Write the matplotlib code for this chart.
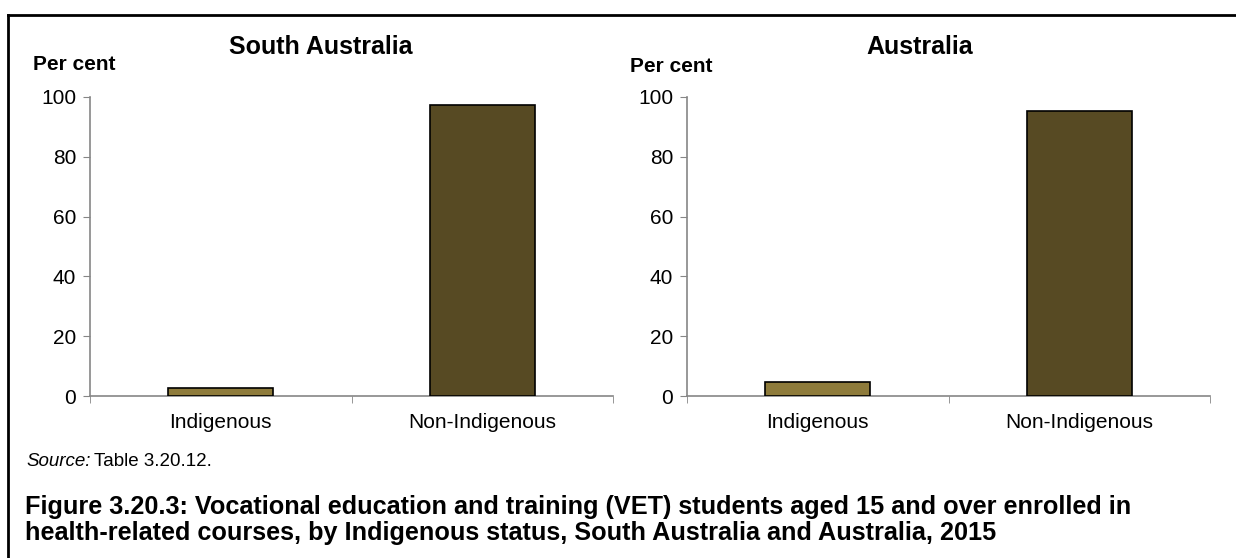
import matplotlib.pyplot as plt
from matplotlib.lines import Line2D

plt.rcParams['font.family'] = ['Liberation Sans', 'DejaVu Sans']

categories = ['Indigenous', 'Non-Indigenous']
sa_values = [2.7, 97.3]
aus_values = [4.7, 95.3]
panel_titles = ['South Australia', 'Australia']
bar_colors = ['#8e7b3b', '#574a23']
yticks = [0, 20, 40, 60, 80, 100]

fig = plt.figure(figsize=(12.36, 5.58), dpi=100)

# frame lines (top and left)
fig.add_artist(Line2D([8/1236, 1.0], [1-15/558, 1-15/558], color='black', lw=2, transform=fig.transFigure))
fig.add_artist(Line2D([8/1236, 8/1236], [1-15/558, 0], color='black', lw=2, transform=fig.transFigure))

boxes = [[90/1236, 1-396/558, 523/1236, 299/558],
         [687/1236, 1-396/558, 523/1236, 299/558]]
ylab_x = [33/1236, 630/1236]
ylab_y = [64, 67]
title_x = [321/1236, 920/1236]

for i, vals in enumerate([sa_values, aus_values]):
    ax = fig.add_axes(boxes[i])
    ax.bar(range(len(categories)), vals, width=0.4, color=bar_colors,
           edgecolor='black', linewidth=1.2, zorder=3)
    ax.set_xlim(-0.5, 1.5)
    ax.set_ylim(0, 100)
    ax.set_yticks(yticks)
    ax.set_xticks([0, 1])
    ax.set_xticklabels(categories, fontsize=15)
    ax.set_xticks([-0.5, 0.5, 1.5], minor=True)
    ax.tick_params(axis='x', which='major', length=0, pad=12)
    ax.tick_params(axis='x', which='minor', length=5, color='#868686', direction='out')
    ax.tick_params(axis='y', length=5, color='#868686', direction='out', labelsize=15, pad=5)
    for s in ['top', 'right']:
        ax.spines[s].set_visible(False)
    for s in ['left', 'bottom']:
        ax.spines[s].set_color('#868686')
        ax.spines[s].set_linewidth(1.2)
    fig.text(title_x[i], 1-47/558, panel_titles[i], ha='center', va='center',
             fontsize=18, fontweight='bold')
    fig.text(ylab_x[i], 1-ylab_y[i]/558, 'Per cent', ha='left', va='center',
             fontsize=15, fontweight='bold')

# source line: italic "Source:" then plain text right after it
src = fig.text(26/1236, 1-462/558, 'Source:', fontsize=13.5, va='center', style='italic')
fig.canvas.draw()
bb = src.get_window_extent(renderer=fig.canvas.get_renderer())
fig.text((bb.x1 + 4) / fig.bbox.width, 1-462/558, 'Table 3.20.12.', fontsize=13.5, va='center')

fig.text(25/1236, 1-507/558,
         'Figure 3.20.3: Vocational education and training (VET) students aged 15 and over enrolled in',
         fontsize=18.2, fontweight='bold', va='center')
fig.text(25/1236, 1-533/558,
         'health-related courses, by Indigenous status, South Australia and Australia, 2015',
         fontsize=18.2, fontweight='bold', va='center')

fig.savefig('out.png', dpi=100)
